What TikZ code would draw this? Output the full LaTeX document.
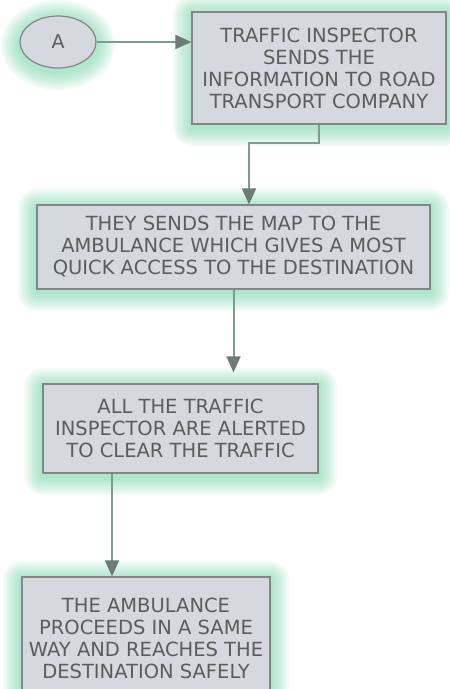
\documentclass[tikz,border=0pt]{standalone}
\usepackage{fontspec}
\setmainfont{DejaVu Sans}
\usetikzlibrary{shapes.geometric,arrows.meta}

\definecolor{boxgray}{HTML}{D5D8DE}
\definecolor{edgegray}{HTML}{858585}
\definecolor{textgray}{HTML}{5C5C5C}
\definecolor{glowgreen}{HTML}{5CCB95}
\definecolor{linkgreen}{HTML}{7F9B8D}
\definecolor{tipgray}{HTML}{6F7B76}

\tikzset{
  glowring/.style={preaction={draw=glowgreen,draw opacity=0.07,line width=#1,
    line join=round,transform canvas={yshift=-3pt}}},
  glow/.style={glowring=38pt,glowring=34pt,glowring=30pt,glowring=26pt,
    glowring=22pt,glowring=18pt,glowring=14pt,glowring=10pt,glowring=6pt},
  stepbox/.style={glow,rectangle,draw=edgegray,line width=1.2pt,fill=boxgray,
    text=textgray,align=center,inner sep=0pt,
    font=\fontsize{19.5}{22}\selectfont},
  startnode/.style={glow,ellipse,draw=edgegray,line width=1.2pt,fill=boxgray,
    text=textgray,inner sep=0pt,minimum width=76pt,minimum height=52pt,
    font=\fontsize{19}{20}\selectfont},
  link/.style={draw=linkgreen,line width=2pt,
    -{Triangle[length=16pt,width=14pt,color=tipgray]}}
}

\begin{document}
\begin{tikzpicture}[x=1pt,y=-1pt]
  \useasboundingbox (0,0) rectangle (450,689);

  \node[startnode] (a) at (58,42) {A};
  \node[stepbox,minimum width=254pt,minimum height=112pt] (inspect) at (319,68)
    {TRAFFIC INSPECTOR\\SENDS THE\\INFORMATION TO ROAD\\TRANSPORT COMPANY};
  \node[stepbox,minimum width=393pt,minimum height=84pt] (map) at (233.5,247)
    {THEY SENDS THE MAP TO THE\\AMBULANCE WHICH GIVES A MOST\\QUICK ACCESS TO THE DESTINATION};
  \node[stepbox,minimum width=275pt,minimum height=89pt] (alert) at (180.5,428.5)
    {ALL THE TRAFFIC\\INSPECTOR ARE ALERTED\\TO CLEAR THE TRAFFIC};
  \node[stepbox,minimum width=248pt,minimum height=123pt] (safe) at (146,638.5)
    {THE AMBULANCE\\PROCEEDS IN A SAME\\WAY AND REACHES THE\\DESTINATION SAFELY};

  \coordinate (bend) at (249,143);

  \draw[link] (a.east) -- (a.east -| inspect.west);
  \draw[link] (inspect.south) |- (bend) -- (bend |- map.north);
  \draw[link,shorten >=11pt] (map.south) -- (map.south |- alert.north);
  \draw[link] (alert.south -| 112,0) -- (safe.north -| 112,0);
\end{tikzpicture}
\end{document}
